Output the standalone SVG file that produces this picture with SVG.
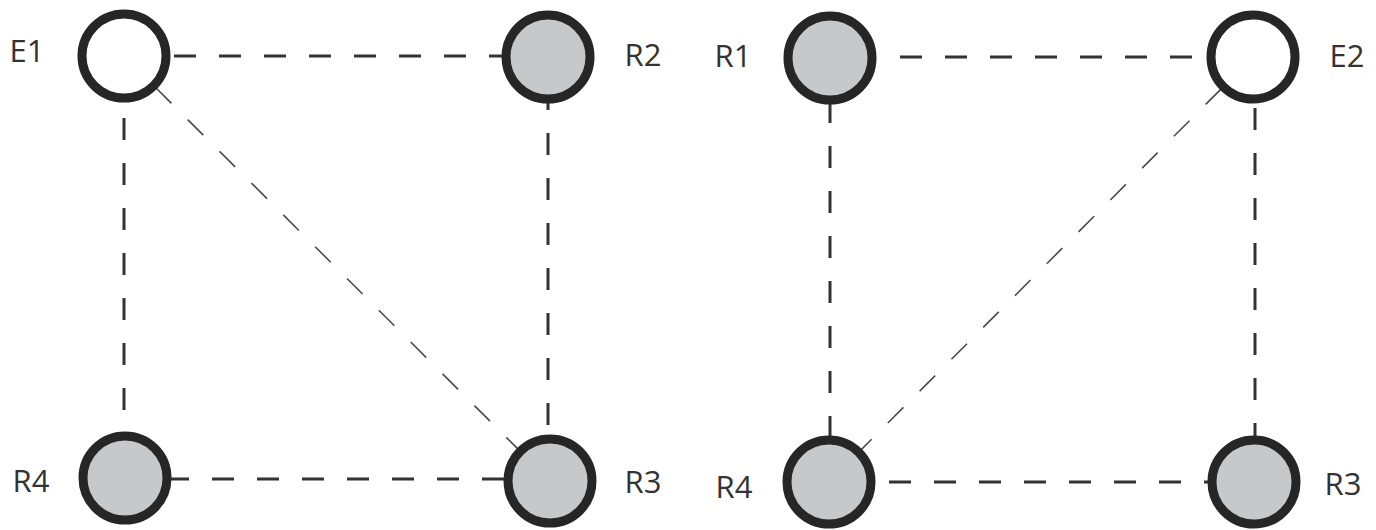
<svg xmlns="http://www.w3.org/2000/svg" width="1376" height="530" viewBox="0 0 1376 530">
<style>
.bg{fill:#ffffff}
.edge{stroke:#333333;stroke-width:3;stroke-dasharray:22 23;fill:none}
.diag{stroke:#4a4a4a;stroke-width:1.6;stroke-dasharray:22 23;fill:none}
.empty{fill:#ffffff;stroke:#262626;stroke-width:9}
.full{fill:#c7c8ca;stroke:#262626;stroke-width:9}
.lbl{font-family:"Open Sans","DejaVu Sans",sans-serif;font-size:31px;fill:#333333}
</style>
<rect class="bg" x="0" y="0" width="1376" height="530"/>
<g id="connectors">
<line class="edge" x1="174" y1="56" x2="502" y2="56"/>
<line class="edge" x1="124" y1="118" x2="124" y2="436"/>
<line class="edge" x1="167" y1="479" x2="505" y2="479"/>
<line class="edge" x1="548" y1="88" x2="548" y2="436"/>
<line class="diag" x1="124" y1="56" x2="550" y2="481"/>
<line class="edge" x1="900" y1="57" x2="1208" y2="57"/>
<line class="edge" x1="830" y1="101" x2="830" y2="438"/>
<line class="edge" x1="1255" y1="108" x2="1255" y2="438"/>
<line class="edge" x1="889" y1="482" x2="1210" y2="482"/>
<line class="diag" x1="1253" y1="57" x2="829" y2="482"/>
</g>
<g id="E1"><circle class="empty" cx="124" cy="56" r="42"/><text class="lbl" x="9.5" y="62">E1</text></g>
<g id="R2"><circle class="full" cx="548" cy="57" r="42"/><text class="lbl" x="624.5" y="66">R2</text></g>
<g id="R4a"><circle class="full" cx="125" cy="478" r="42"/><text class="lbl" x="12.5" y="492">R4</text></g>
<g id="R3a"><circle class="full" cx="550" cy="481" r="42"/><text class="lbl" x="624.5" y="493">R3</text></g>
<g id="R1"><circle class="full" cx="830" cy="58" r="42"/><text class="lbl" x="714.5" y="67">R1</text></g>
<g id="E2"><circle class="empty" cx="1253" cy="57" r="42"/><text class="lbl" x="1329.5" y="67">E2</text></g>
<g id="R4b"><circle class="full" cx="829" cy="482" r="42"/><text class="lbl" x="715.5" y="498">R4</text></g>
<g id="R3b"><circle class="full" cx="1254" cy="482" r="42"/><text class="lbl" x="1324.5" y="495">R3</text></g>
</svg>
